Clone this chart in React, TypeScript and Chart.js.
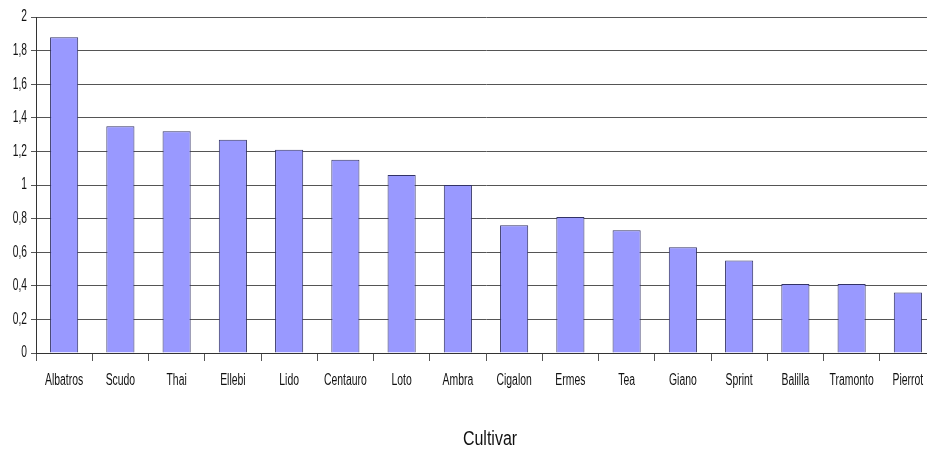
import React, { useEffect, useRef } from "react";
import { Chart, registerables } from "chart.js";

Chart.register(...registerables);

const cultivars = [
  "Albatros", "Scudo", "Thai", "Ellebi", "Lido", "Centauro", "Loto", "Ambra",
  "Cigalon", "Ermes", "Tea", "Giano", "Sprint", "Balilla", "Tramonto", "Pierrot",
];
const values = [1.88, 1.35, 1.32, 1.27, 1.21, 1.15, 1.06, 1.0, 0.76, 0.81, 0.73, 0.63, 0.55, 0.41, 0.41, 0.36];
const axisTitle = "Cultivar";

const FONT = "'Liberation Sans', Arial, sans-serif";
const TEXT_COLOR = "#111111";

// Draws a string squeezed horizontally, giving a narrow typeface look.
function narrowText(
  ctx: CanvasRenderingContext2D,
  text: string,
  x: number,
  y: number,
  size: number,
  squeeze: number,
  align: CanvasTextAlign
) {
  ctx.save();
  ctx.translate(x, y);
  ctx.scale(squeeze, 1);
  ctx.font = `${size}px ${FONT}`;
  ctx.fillStyle = TEXT_COLOR;
  ctx.textAlign = align;
  ctx.textBaseline = "middle";
  ctx.fillText(text, 0, 0);
  ctx.restore();
}

const narrowLabels = {
  id: "narrowLabels",
  afterDraw(chart: any) {
    const { ctx } = chart;
    const xs = chart.scales.x;
    const ys = chart.scales.y;
    xs.ticks.forEach((_t: any, i: number) => {
      const label = String(chart.data.labels[i]);
      narrowText(ctx, label, xs.getPixelForTick(i), xs.top + 28, 16, 0.65, "center");
    });
    ys.ticks.forEach((t: any, i: number) => {
      const n = Math.round(Number(t.value) * 10) / 10;
      narrowText(ctx, String(n).replace(".", ","), ys.right - 9, ys.getPixelForTick(i), 16, 0.64, "right");
    });
    narrowText(ctx, axisTitle, (xs.left + xs.right) / 2 + 4, xs.top + 86, 20, 0.8, "center");
  },
};

export default function App() {
  const ref = useRef<HTMLCanvasElement | null>(null);

  useEffect(() => {
    document.body.style.margin = "0";
    const ctx = ref.current!;
    const chart = new Chart(ctx, {
      type: "bar",
      data: {
        labels: cultivars,
        datasets: [
          {
            data: values,
            backgroundColor: "#9999ff",
            borderColor: "#333366",
            borderWidth: 1,
            barPercentage: 0.5,
            categoryPercentage: 1,
          },
        ],
      },
      options: {
        animation: false,
        responsive: false,
        maintainAspectRatio: false,
        layout: { padding: { left: 0, top: 17, right: 4, bottom: 7 } },
        plugins: { legend: { display: false }, tooltip: { enabled: false } },
        scales: {
          x: {
            grid: {
              offset: true,
              drawOnChartArea: false,
              drawTicks: true,
              tickLength: 8,
              color: "#555555",
            },
            border: { display: true, color: "#333333", width: 1 },
            ticks: {
              color: "rgba(0,0,0,0)",
              padding: 12,
              maxRotation: 0,
              autoSkip: false,
              font: { family: FONT, size: 12 },
            },
            afterFit: (scale: any) => {
              scale.height = 95;
            },
          },
          y: {
            min: 0,
            max: 2,
            grid: {
              color: "#555555",
              tickLength: 5,
              drawTicks: true,
            },
            border: { display: true, color: "#333333", width: 1 },
            ticks: {
              stepSize: 0.2,
              padding: 4,
              color: "rgba(0,0,0,0)",
              font: { family: FONT, size: 12 },
            },
            afterFit: (scale: any) => {
              scale.width = 36;
            },
          },
        },
      },
      plugins: [narrowLabels],
    });
    return () => chart.destroy();
  }, []);

  return (
    <div style={{ position: "absolute", left: 0, top: 0, width: 927, height: 455, overflow: "hidden", background: "#fff" }}>
      <canvas ref={ref} width={940} height={455} style={{ display: "block", width: 940, height: 455 }} />
    </div>
  );
}
